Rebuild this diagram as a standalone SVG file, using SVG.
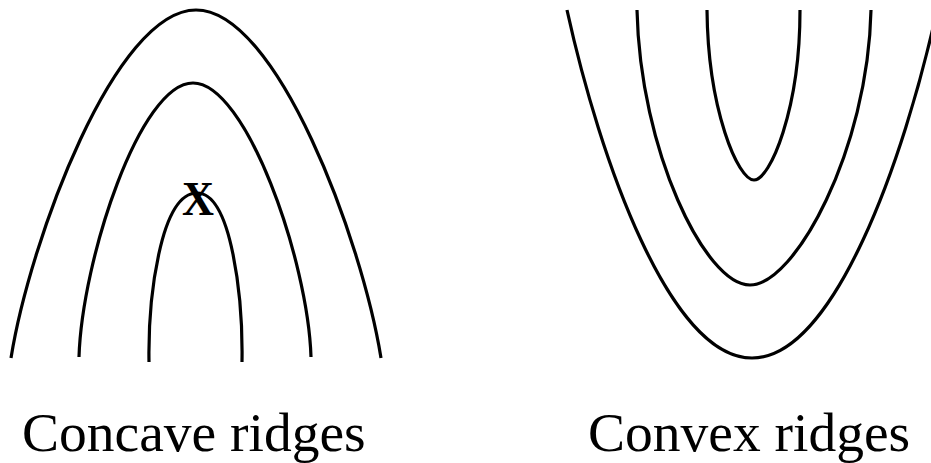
<svg xmlns="http://www.w3.org/2000/svg" width="931" height="463" viewBox="0 0 931 463">
<style>
.r{fill:none;stroke:#000;stroke-width:3.2;stroke-linecap:butt}
.lbl{font-family:"Liberation Serif","Times New Roman",serif;font-size:55.5px;fill:#000}
.x{font-family:"Liberation Serif","Times New Roman",serif;font-size:49px;font-weight:bold;fill:#000}
</style>
<rect width="931" height="463" fill="#fff"/>
<g id="concave">
<path class="r" d="M11,358 C30,240 115,10 196,10 C277,10 362,240 381,358"/>
<path class="r" d="M79,357 C82,260 140,83 193,83 C246,83 308,260 311,357"/>
<path class="r" d="M149,362 C148,300 160,193 197,193 C232,193 243,300 242,362"/>
<text class="x" x="182" y="215" textLength="32" lengthAdjust="spacingAndGlyphs">X</text>
</g>
<g id="convex">
<path class="r" d="M567,10 C600,160 670,358 752,358 C834,358 904,160 937,10"/>
<path class="r" d="M637,10 C640,150 705,285 750,285 C795,285 868,150 871,10"/>
<path class="r" d="M707,10 C708,110 738,180 754,180 C770,180 800,110 800,10"/>
</g>
<text class="lbl" x="22" y="451">Concave ridges</text>
<text class="lbl" x="588" y="451">Convex ridges</text>
</svg>
